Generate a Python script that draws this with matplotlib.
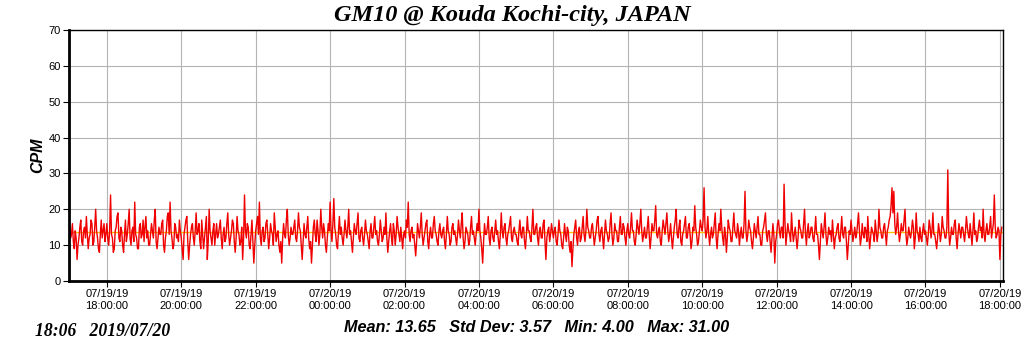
import numpy as np
import matplotlib
matplotlib.use("Agg")
import matplotlib.pyplot as plt
import matplotlib.dates as mdates
from datetime import datetime, timedelta

# CPM readings, one value every 1.5 minutes, one row per hour starting 07/19 17:00
cpm_rows = [
    "15 12 13 16 11 9 14 12 6 10 12 15 17 11 10 14 15 12 18 13 9 12 13 17 16 10 11 15 20 14 12 9 8 13 17 12 14 16 11 13",
    "16 12 10 14 24 13 12 8 9 14 15 18 19 12 11 15 14 10 8 13 17 11 13 16 20 12 10 14 15 11 22 13 12 9 9 15 16 12 13 17",
    "11 15 18 12 14 10 10 13 16 14 12 17 20 11 9 12 15 13 13 16 17 10 8 12 14 18 19 13 22 14 12 9 10 16 15 12 13 11 17 14",
    "12 9 6 13 15 17 18 11 6 10 13 15 16 12 10 14 19 13 14 16 11 9 17 13 9 12 15 18 6 11 20 14 12 10 14 16 10 13 16 12",
    "13 15 17 12 9 13 15 11 12 16 19 13 10 12 14 17 16 11 8 12 18 14 13 10 11 15 6 12 24 14 12 16 15 10 9 13 17 11 5 10",
    "14 16 18 13 22 12 10 14 15 11 12 16 17 13 9 12 16 14 13 10 19 15 11 13 14 10 8 11 5 12 16 13 12 17 20 13 10 12 15 13",
    "13 15 17 12 11 14 19 15 14 10 6 11 16 13 12 15 18 12 9 11 5 10 15 17 13 11 17 14 10 13 20 15 12 16 14 10 8 12 16 14",
    "22 14 11 16 23 15 13 10 9 14 18 13 15 12 10 13 17 14 12 15 20 13 14 11 8 12 16 14 13 16 19 12 11 14 15 12 10 13 17 14",
    "13 11 9 14 16 12 12 15 18 13 14 11 10 13 17 14 11 12 15 13 19 12 8 11 14 16 12 10 16 14 10 13 18 15 13 11 15 12 9 13",
    "14 12 17 15 22 13 11 14 15 12 13 10 7 11 16 14 12 15 19 13 10 12 14 16 17 11 9 13 15 12 12 16 18 14 13 11 10 14 16 13",
    "12 14 15 11 9 13 18 14 13 10 11 15 16 13 14 12 10 13 17 14 12 16 19 12 9 11 15 14 13 10 11 15 18 13 14 12 10 13 16 14",
    "20 14 12 9 5 11 16 13 13 15 18 12 10 14 15 12 11 14 17 13 14 11 9 13 19 14 12 15 16 12 10 13 14 16 18 12 11 14 15 13",
    "13 11 10 14 17 13 12 15 15 11 9 13 18 14 14 12 11 15 20 13 13 15 16 12 10 14 15 12 12 16 17 11 6 12 14 15 11 13 16 14",
    "12 14 15 11 10 13 17 14 13 10 9 12 16 13 11 15 14 10 8 11 4 9 13 15 17 12 10 14 15 11 12 15 18 13 11 14 20 15 14 12",
    "12 15 16 13 10 12 14 17 18 13 11 14 15 12 9 13 17 14 13 11 12 16 19 13 10 12 16 14 14 11 11 15 18 13 13 16 15 12 10 14",
    "16 13 12 15 19 14 14 11 10 13 17 15 13 16 20 14 11 13 15 12 12 15 18 13 9 12 16 14 14 17 21 13 12 14 15 11 10 14 17 15",
    "13 16 19 14 11 13 16 12 9 12 15 17 20 13 12 15 17 11 10 13 14 16 18 12 12 15 16 13 9 11 15 14 21 15 13 10 11 14 17 15",
    "14 17 26 15 12 14 18 13 10 13 15 12 13 16 19 12 9 13 16 14 20 15 12 10 15 13 8 12 17 15 14 11 11 15 19 14 13 12 16 14",
    "10 13 15 12 12 16 25 14 11 13 17 15 14 11 9 12 16 14 12 15 18 13 13 10 10 14 15 17 19 13 11 14 14 11 8 12 16 13 5 11",
    "13 16 17 14 12 15 15 12 27 16 10 13 16 14 13 11 19 14 11 13 15 12 9 12 17 15 14 12 12 16 20 13 10 14 16 12 13 15 15 12",
    "11 14 18 13 13 10 6 11 16 14 12 15 19 13 10 12 15 13 14 11 17 13 9 12 13 15 16 12 11 14 18 13 12 15 15 11 6 10 14 13",
    "17 14 11 13 15 12 13 16 19 14 10 12 16 13 12 15 14 11 18 13 9 12 15 14 13 11 17 14 11 13 20 15 14 12 12 15 16 13 10 14",
    "15 17 18 21 26 19 25 16 13 15 19 14 11 13 16 14 14 17 20 13 10 12 15 13 12 14 17 15 9 12 19 14 13 11 15 12 11 14 16 13",
    "14 12 10 13 17 15 12 14 19 13 13 11 9 12 16 14 11 13 18 15 14 12 12 15 31 14 10 12 15 13 13 16 17 12 9 13 16 14 12 15",
    "15 13 11 14 18 15 13 12 16 13 10 14 19 13 14 11 12 15 17 14 15 12 20 13 11 14 16 13 13 15 18 12 14 16 24 15 12 13 15 14",
    "6 13 15",
]
cpm = [int(v) for row in cpm_rows for v in row.split()]

start = datetime(2019, 7, 19, 17, 0)
step_sec = 90
times = [start + timedelta(seconds=step_sec * i) for i in range(len(cpm))]

mean_cpm = 13.65
std_cpm = 3.57
min_cpm = 4.00
max_cpm = 31.00

fig = plt.figure(figsize=(10.24, 3.51), dpi=100)
ax = fig.add_axes([69 / 1024, 1 - 281 / 351, (1003 - 69) / 1024, (281 - 30) / 351])

ax.axhline(mean_cpm, color="#ffc000", lw=1.0, zorder=1)
ax.plot(times, cpm, color="#f00000", lw=1.0, zorder=2)

ax.set_xlim(datetime(2019, 7, 19, 16, 59), datetime(2019, 7, 20, 18, 5))
ax.set_ylim(0, 70)
ax.set_yticks(range(0, 71, 10))
ax.xaxis.set_major_locator(mdates.HourLocator(byhour=range(0, 24, 2)))
ax.xaxis.set_major_formatter(mdates.DateFormatter("%m/%d/%y\n%H:%M:%S"))

ax.grid(True, color="#b4b4b4", lw=0.8)
ax.set_axisbelow(True)
for s in ("top", "right"):
    ax.spines[s].set_linewidth(1.0)
for s in ("left", "bottom"):
    ax.spines[s].set_linewidth(2.0)
ax.tick_params(axis="both", labelsize=8, length=4, width=0.8, pad=2)
for lbl in ax.get_xticklabels() + ax.get_yticklabels():
    lbl.set_fontfamily("Liberation Sans")
    lbl.set_linespacing(1.2)

ax.set_ylabel("CPM", fontsize=11.5, fontweight="bold", fontstyle="italic",
              family="Liberation Sans", labelpad=2)

fig.text(0.5, 1 - 16 / 351, "GM10 @ Kouda Kochi-city, JAPAN", ha="center", va="center",
         fontsize=17.5, fontweight="bold", fontstyle="italic", family="Liberation Serif")
fig.text(537 / 1024, 1 - 327 / 351,
         f"Mean: {mean_cpm:.2f}   Std Dev: {std_cpm:.2f}   Min: {min_cpm:.2f}   Max: {max_cpm:.2f}",
         ha="center", va="center", fontsize=11.7, fontweight="bold", fontstyle="italic",
         family="Liberation Sans")
fig.text(35 / 1024, 1 - 331 / 351, "18:06   2019/07/20", ha="left", va="center",
         fontsize=12.7, fontweight="bold", fontstyle="italic", family="Liberation Serif")

fig.savefig("out.png", dpi=100)
